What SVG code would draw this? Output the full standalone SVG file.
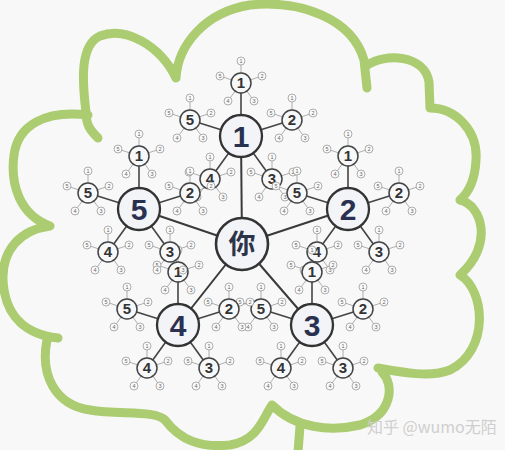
<svg xmlns="http://www.w3.org/2000/svg" xmlns:xlink="http://www.w3.org/1999/xlink" width="505" height="450" viewBox="0 0 505 450">
<style>
.bg{fill:#f8f8f8}
.cloud{fill:none;stroke:#abcc70;stroke-width:9;stroke-linecap:round;stroke-linejoin:round}
.l0{stroke:#3a3a3a;stroke-width:2;fill:none}
.l1{stroke:#444;stroke-width:1.6;fill:none}
.l2{stroke:#9a9a9a;stroke-width:0.8;fill:none}
.you{fill:#f2f4f8;stroke:#333;stroke-width:2.6}
.big{fill:#f2f4f8;stroke:#333;stroke-width:2.3}
.c{fill:#f7f8fa;stroke:#444;stroke-width:1.5}
.t{fill:#fafafa;stroke:#999;stroke-width:0.8}
.yt{font-family:"Noto Sans CJK SC","Noto Sans CJK JP",sans-serif;font-weight:bold;font-size:27px;fill:#2e3448;text-anchor:middle}
.bt{font-family:"Liberation Sans",Arial,sans-serif;font-weight:bold;font-size:30px;fill:#2a3150;text-anchor:middle}
.ct{font-family:"Liberation Sans",Arial,sans-serif;font-weight:bold;font-size:15px;fill:#333;text-anchor:middle}
.tt{font-family:"Liberation Sans",Arial,sans-serif;font-size:5.5px;fill:#666;text-anchor:middle}
.wm{font-family:"Noto Sans CJK SC","Liberation Sans",sans-serif;font-size:16px;fill:#cfcfcf}
</style>
<defs>
<g id="leaflines">
<line class="l2" x1="0" y1="0" x2="0" y2="-22"/>
<line class="l2" x1="0" y1="0" x2="21" y2="-7"/>
<line class="l2" x1="0" y1="0" x2="13" y2="18"/>
<line class="l2" x1="0" y1="0" x2="-13" y2="18"/>
<line class="l2" x1="0" y1="0" x2="-21" y2="-7"/>
</g>
<g id="leaf">
<circle class="t" cx="0" cy="-22" r="4"/><text class="tt" x="0" y="-20">1</text>
<circle class="t" cx="21" cy="-7" r="4"/><text class="tt" x="21" y="-5">2</text>
<circle class="t" cx="13" cy="18" r="4"/><text class="tt" x="13" y="20">3</text>
<circle class="t" cx="-13" cy="18" r="4"/><text class="tt" x="-13" y="20">4</text>
<circle class="t" cx="-21" cy="-7" r="4"/><text class="tt" x="-21" y="-5">5</text>
</g>
</defs>
<rect class="bg" x="0" y="0" width="505" height="450"/>
<path class="cloud" d="M50,226 C20,215 10,185 14,155 C18,125 45,110 88,115
M98,138 C90,130 86,125 86,112 C82,80 80,45 100,36 C125,26 160,45 176,78
M176,78 C178,45 205,12 250,5 C300,0 352,18 364,60 L367,88
M366,66 C385,52 425,55 429,82 L430,108
M430,108 C455,108 478,130 476,160 C475,180 468,193 460,200
M460,200 C482,205 494,245 460,275
M460,275 C485,290 490,350 450,370 C430,378 400,372 378,368
M382,372 C395,385 392,415 360,425 C330,432 295,428 272,405
M300,426 L298,452
M272,405 C262,420 258,440 230,445 C200,448 180,440 165,420 C155,410 120,415 90,410 C55,405 40,375 47,340
M58,338 C30,335 5,320 3,280 C2,250 20,230 50,226"/>
<g id="connectors">
<line class="l0" x1="242" y1="244" x2="241" y2="136"/>
<line class="l0" x1="242" y1="244" x2="348" y2="209"/>
<line class="l0" x1="242" y1="244" x2="312" y2="325"/>
<line class="l0" x1="242" y1="244" x2="178" y2="325"/>
<line class="l0" x1="242" y1="244" x2="139" y2="209"/>
<line class="l1" x1="241" y1="136" x2="241" y2="83"/><line class="l1" x1="241" y1="136" x2="292" y2="120"/><line class="l1" x1="241" y1="136" x2="272" y2="179"/><line class="l1" x1="241" y1="136" x2="210" y2="179"/><line class="l1" x1="241" y1="136" x2="190" y2="120"/>
<line class="l1" x1="348" y1="209" x2="348" y2="156"/><line class="l1" x1="348" y1="209" x2="399" y2="193"/><line class="l1" x1="348" y1="209" x2="379" y2="252"/><line class="l1" x1="348" y1="209" x2="317" y2="252"/><line class="l1" x1="348" y1="209" x2="297" y2="193"/>
<line class="l1" x1="312" y1="325" x2="312" y2="272"/><line class="l1" x1="312" y1="325" x2="363" y2="309"/><line class="l1" x1="312" y1="325" x2="343" y2="368"/><line class="l1" x1="312" y1="325" x2="281" y2="368"/><line class="l1" x1="312" y1="325" x2="261" y2="309"/>
<line class="l1" x1="178" y1="325" x2="178" y2="272"/><line class="l1" x1="178" y1="325" x2="229" y2="309"/><line class="l1" x1="178" y1="325" x2="209" y2="368"/><line class="l1" x1="178" y1="325" x2="147" y2="368"/><line class="l1" x1="178" y1="325" x2="127" y2="309"/>
<line class="l1" x1="139" y1="209" x2="139" y2="156"/><line class="l1" x1="139" y1="209" x2="190" y2="193"/><line class="l1" x1="139" y1="209" x2="170" y2="252"/><line class="l1" x1="139" y1="209" x2="108" y2="252"/><line class="l1" x1="139" y1="209" x2="88" y2="193"/>
<use href="#leaflines" x="241" y="83"/><use href="#leaflines" x="292" y="120"/><use href="#leaflines" x="272" y="179"/><use href="#leaflines" x="210" y="179"/><use href="#leaflines" x="190" y="120"/>
<use href="#leaflines" x="348" y="156"/><use href="#leaflines" x="399" y="193"/><use href="#leaflines" x="379" y="252"/><use href="#leaflines" x="317" y="252"/><use href="#leaflines" x="297" y="193"/>
<use href="#leaflines" x="312" y="272"/><use href="#leaflines" x="363" y="309"/><use href="#leaflines" x="343" y="368"/><use href="#leaflines" x="281" y="368"/><use href="#leaflines" x="261" y="309"/>
<use href="#leaflines" x="178" y="272"/><use href="#leaflines" x="229" y="309"/><use href="#leaflines" x="209" y="368"/><use href="#leaflines" x="147" y="368"/><use href="#leaflines" x="127" y="309"/>
<use href="#leaflines" x="139" y="156"/><use href="#leaflines" x="190" y="193"/><use href="#leaflines" x="170" y="252"/><use href="#leaflines" x="108" y="252"/><use href="#leaflines" x="88" y="193"/>
</g>
<g id="n1-1" transform="translate(241,83)"><use href="#leaf"/><circle class="c" r="10"/><text class="ct" y="5.3">1</text></g>
<g id="n1-2" transform="translate(292,120)"><use href="#leaf"/><circle class="c" r="10"/><text class="ct" y="5.3">2</text></g>
<g id="n1-3" transform="translate(272,179)"><use href="#leaf"/><circle class="c" r="10"/><text class="ct" y="5.3">3</text></g>
<g id="n1-4" transform="translate(210,179)"><use href="#leaf"/><circle class="c" r="10"/><text class="ct" y="5.3">4</text></g>
<g id="n1-5" transform="translate(190,120)"><use href="#leaf"/><circle class="c" r="10"/><text class="ct" y="5.3">5</text></g>
<g id="n2-1" transform="translate(348,156)"><use href="#leaf"/><circle class="c" r="10"/><text class="ct" y="5.3">1</text></g>
<g id="n2-2" transform="translate(399,193)"><use href="#leaf"/><circle class="c" r="10"/><text class="ct" y="5.3">2</text></g>
<g id="n2-3" transform="translate(379,252)"><use href="#leaf"/><circle class="c" r="10"/><text class="ct" y="5.3">3</text></g>
<g id="n2-4" transform="translate(317,252)"><use href="#leaf"/><circle class="c" r="10"/><text class="ct" y="5.3">4</text></g>
<g id="n2-5" transform="translate(297,193)"><use href="#leaf"/><circle class="c" r="10"/><text class="ct" y="5.3">5</text></g>
<g id="n3-1" transform="translate(312,272)"><use href="#leaf"/><circle class="c" r="10"/><text class="ct" y="5.3">1</text></g>
<g id="n3-2" transform="translate(363,309)"><use href="#leaf"/><circle class="c" r="10"/><text class="ct" y="5.3">2</text></g>
<g id="n3-3" transform="translate(343,368)"><use href="#leaf"/><circle class="c" r="10"/><text class="ct" y="5.3">3</text></g>
<g id="n3-4" transform="translate(281,368)"><use href="#leaf"/><circle class="c" r="10"/><text class="ct" y="5.3">4</text></g>
<g id="n3-5" transform="translate(261,309)"><use href="#leaf"/><circle class="c" r="10"/><text class="ct" y="5.3">5</text></g>
<g id="n4-1" transform="translate(178,272)"><use href="#leaf"/><circle class="c" r="10"/><text class="ct" y="5.3">1</text></g>
<g id="n4-2" transform="translate(229,309)"><use href="#leaf"/><circle class="c" r="10"/><text class="ct" y="5.3">2</text></g>
<g id="n4-3" transform="translate(209,368)"><use href="#leaf"/><circle class="c" r="10"/><text class="ct" y="5.3">3</text></g>
<g id="n4-4" transform="translate(147,368)"><use href="#leaf"/><circle class="c" r="10"/><text class="ct" y="5.3">4</text></g>
<g id="n4-5" transform="translate(127,309)"><use href="#leaf"/><circle class="c" r="10"/><text class="ct" y="5.3">5</text></g>
<g id="n5-1" transform="translate(139,156)"><use href="#leaf"/><circle class="c" r="10"/><text class="ct" y="5.3">1</text></g>
<g id="n5-2" transform="translate(190,193)"><use href="#leaf"/><circle class="c" r="10"/><text class="ct" y="5.3">2</text></g>
<g id="n5-3" transform="translate(170,252)"><use href="#leaf"/><circle class="c" r="10"/><text class="ct" y="5.3">3</text></g>
<g id="n5-4" transform="translate(108,252)"><use href="#leaf"/><circle class="c" r="10"/><text class="ct" y="5.3">4</text></g>
<g id="n5-5" transform="translate(88,193)"><use href="#leaf"/><circle class="c" r="10"/><text class="ct" y="5.3">5</text></g>
<g id="n1"><circle class="big" cx="241" cy="136" r="21"/><text class="bt" x="241" y="147">1</text></g>
<g id="n2"><circle class="big" cx="348" cy="209" r="21"/><text class="bt" x="348" y="220">2</text></g>
<g id="n3"><circle class="big" cx="312" cy="325" r="21"/><text class="bt" x="312" y="336">3</text></g>
<g id="n4"><circle class="big" cx="178" cy="325" r="21"/><text class="bt" x="178" y="336">4</text></g>
<g id="n5"><circle class="big" cx="139" cy="209" r="21"/><text class="bt" x="139" y="220">5</text></g>
<g id="you"><circle class="you" cx="242" cy="244" r="26"/><text class="yt" x="242" y="254">你</text></g>
<text class="wm" x="367" y="433">知乎 @wumo无陌</text>
</svg>
